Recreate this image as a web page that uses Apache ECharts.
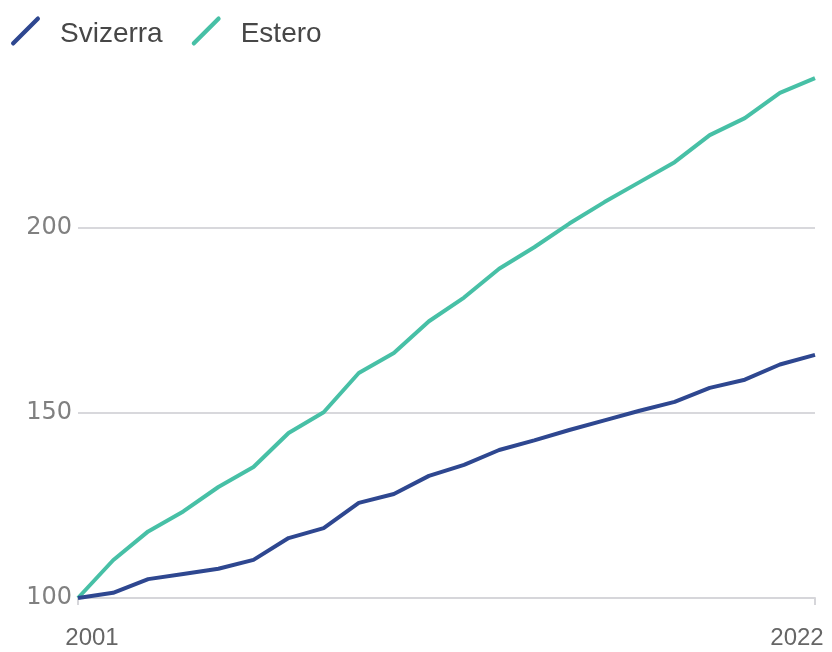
<!DOCTYPE html>
<html>
<head>
<meta charset="utf-8">
<script src="https://cdn.jsdelivr.net/npm/echarts@6/dist/echarts.min.js"></script>
<style>html,body{margin:0;padding:0;background:#fff}#c{width:832px;height:652px}</style>
</head>
<body>
<div id="c"></div>
<script>
const years = ['2001','2002','2003','2004','2005','2006','2007','2008','2009','2010','2011','2012','2013','2014','2015','2016','2017','2018','2019','2020','2021','2022'];
const svizzera = [100, 101.4, 105.1, 106.5, 107.9, 110.3, 116.2, 118.9, 125.7, 128.1, 133.0, 136.0, 140.0, 142.6, 145.4, 148.0, 150.6, 153.0, 156.8, 159.0, 163.1, 165.7];
const estero = [100, 110.2, 118.0, 123.4, 130.0, 135.4, 144.6, 150.2, 160.8, 166.2, 174.8, 181.2, 189.0, 194.8, 201.2, 207.0, 212.4, 217.8, 225.1, 229.7, 236.5, 240.5];
const yTicks = [100, 150, 200, 250];
const seriesNames = ['Svizerra', 'Estero'];

const font = "'Liberation Sans', Arial, sans-serif";
const iconPath = 'path://M1.2,24 L24,1.2 A2,2 0 0 1 26.8,4 L4,26.8 A2,2 0 0 1 1.2,24 Z';
const chart = echarts.init(document.getElementById('c'), null, {renderer: 'canvas'});
chart.setOption({
  animation: false,
  backgroundColor: '#ffffff',
  color: ['#2e4790', '#47c0a6'],
  legend: {
    left: 6, top: 9,
    icon: iconPath,
    itemWidth: 29, itemHeight: 29,
    itemGap: 29,
    data: seriesNames,
    formatter: n => '{t|' + n + '}',
    textStyle: {
      rich: { t: { fontSize: 28, color: '#474747', fontFamily: font, padding: [6, 0, 0, 15], lineHeight: 24 } }
    }
  },
  grid: { left: 78, right: 17, top: 43, bottom: 54, containLabel: false },
  xAxis: {
    type: 'category',
    data: years,
    boundaryGap: false,
    axisLine: { show: true, lineStyle: { color: '#d6d6da', width: 2 } },
    axisTick: { show: true, length: 7, lineStyle: { color: '#d6d6da', width: 2 }, interval: (i) => i === 0 || i === years.length - 1 },
    axisLabel: {
      interval: (i) => i === 0 || i === years.length - 1,
      margin: 28,
      fontSize: 24, color: '#666', fontFamily: font,
      formatter: (v, i) => i === 0 ? '{a|' + v + '}' : '{b|' + v + '}',
      rich: {
        a: { fontSize: 24, color: '#666', fontFamily: font, padding: [0, 0, 0, 28] },
        b: { fontSize: 24, color: '#666', fontFamily: font, padding: [0, 36, 0, 0] }
      }
    },
    splitLine: { show: false }
  },
  yAxis: {
    type: 'value',
    min: yTicks[0], max: yTicks[yTicks.length - 1], interval: 50,
    axisLine: { show: false },
    axisTick: { show: false },
    axisLabel: { fontSize: 24, color: '#808080', fontFamily: "'DejaVu Sans', sans-serif", margin: 6, showMaxLabel: false },
    splitLine: { show: true, showMinLine: false, showMaxLine: false, lineStyle: { color: '#d8d8dc', width: 2 } }
  },
  series: [
    { name: seriesNames[0], type: 'line', data: svizzera, symbol: 'none', lineStyle: { width: 4, color: '#2e4790' }, z: 3 },
    { name: seriesNames[1], type: 'line', data: estero, symbol: 'none', lineStyle: { width: 4, color: '#47c0a6' }, z: 2 }
  ]
});
</script>
</body>
</html>
